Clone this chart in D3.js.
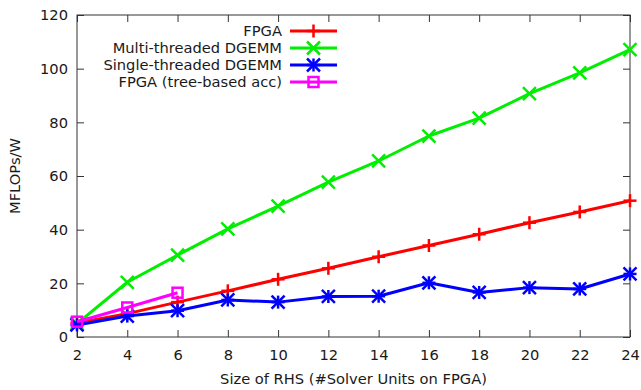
<!DOCTYPE html>
<html>
<head>
<meta charset="utf-8">
<script src="https://cdn.jsdelivr.net/npm/d3@7"></script>
<style>
  html, body { margin: 0; padding: 0; background: #fff; }
  svg text { font-family: "DejaVu Sans", sans-serif; font-size: 14.67px; fill: #1a1a1a; }
</style>
</head>
<body>
<svg id="chart" width="641" height="390"></svg>
<script>
// Number of right-hand sides (= solver units on the FPGA)
const rhsSizes = [2, 4, 6, 8, 10, 12, 14, 16, 18, 20, 22, 24];

// Energy efficiency in MFLOPs/W
const fpga = [5.2, 8.7, 13.0, 17.2, 21.5, 25.6, 29.9, 34.1, 38.3, 42.6, 46.6, 50.8];
const multiThreaded = [5.0, 20.4, 30.5, 40.3, 48.8, 57.7, 65.6, 74.9, 81.6, 90.7, 98.4, 107.1];
const singleThreaded = [4.5, 7.8, 9.8, 13.8, 13.0, 15.1, 15.2, 20.2, 16.6, 18.4, 17.9, 23.5];
const fpgaTreeSizes = [2, 4, 6];
const fpgaTree = [5.7, 11.0, 16.5];

const xTicks = [2, 4, 6, 8, 10, 12, 14, 16, 18, 20, 22, 24];
const yTicks = [0, 20, 40, 60, 80, 100, 120];

const series = [
  { name: "FPGA", xs: rhsSizes, ys: fpga, color: "#ff0000", marker: "plus" },
  { name: "Multi-threaded DGEMM", xs: rhsSizes, ys: multiThreaded, color: "#00ee00", marker: "cross" },
  { name: "Single-threaded DGEMM", xs: rhsSizes, ys: singleThreaded, color: "#0000ff", marker: "star" },
  { name: "FPGA (tree-based acc)", xs: fpgaTreeSizes, ys: fpgaTree, color: "#ff00ff", marker: "square" }
];

const svg = d3.select("#chart");
const plotLeft = 77, plotRight = 630, plotTop = 15, plotBottom = 337;

const x = d3.scaleLinear().domain([2, 24]).range([plotLeft, plotRight]);
const y = d3.scaleLinear().domain([0, 120]).range([plotBottom, plotTop]);

const axisColor = "#333";
const tickLen = 7;

// Axes with inward ticks, mirrored on the top and right
const gx = svg.append("g").attr("transform", `translate(0,${plotBottom})`)
  .call(d3.axisBottom(x).tickValues(xTicks).tickSizeInner(-tickLen).tickSizeOuter(0).tickPadding(13));
const gxTop = svg.append("g").attr("transform", `translate(0,${plotTop})`)
  .call(d3.axisTop(x).tickValues(xTicks).tickSizeInner(-tickLen).tickSizeOuter(0).tickFormat(""));
const gy = svg.append("g").attr("transform", `translate(${plotLeft},0)`)
  .call(d3.axisLeft(y).tickValues(yTicks).tickSizeInner(-tickLen).tickSizeOuter(0).tickPadding(9));
const gyRight = svg.append("g").attr("transform", `translate(${plotRight},0)`)
  .call(d3.axisRight(y).tickValues(yTicks).tickSizeInner(-tickLen).tickSizeOuter(0).tickFormat(""));

[gx, gxTop, gy, gyRight].forEach(g => {
  g.select(".domain").remove();
  g.selectAll(".tick line").attr("stroke", axisColor).attr("stroke-width", 1);
  g.selectAll(".tick text").attr("fill", "#1a1a1a");
});

// Plot frame
svg.append("rect")
  .attr("x", plotLeft).attr("y", plotTop)
  .attr("width", plotRight - plotLeft).attr("height", plotBottom - plotTop)
  .attr("fill", "none").attr("stroke", axisColor).attr("stroke-width", 1);

// Axis titles
svg.append("text")
  .attr("x", (plotLeft + plotRight) / 2).attr("y", 384)
  .attr("text-anchor", "middle")
  .text("Size of RHS (#Solver Units on FPGA)");
svg.append("text")
  .attr("transform", `translate(20,${(plotTop + plotBottom) / 2}) rotate(-90)`)
  .attr("text-anchor", "middle")
  .text("MFLOPs/W");

// Marker drawing
function drawMarker(g, kind, cx, cy, color) {
  const s = 6.5;
  const attrs = sel => sel.attr("stroke", color).attr("stroke-width", 2.5).attr("fill", "none");
  if (kind === "plus" || kind === "star") {
    attrs(g.append("line").attr("x1", cx - s).attr("x2", cx + s).attr("y1", cy).attr("y2", cy));
    attrs(g.append("line").attr("x1", cx).attr("x2", cx).attr("y1", cy - s).attr("y2", cy + s));
  }
  if (kind === "cross" || kind === "star") {
    const d = s;
    attrs(g.append("line").attr("x1", cx - d).attr("x2", cx + d).attr("y1", cy - d).attr("y2", cy + d));
    attrs(g.append("line").attr("x1", cx - d).attr("x2", cx + d).attr("y1", cy + d).attr("y2", cy - d));
  }
  if (kind === "square") {
    attrs(g.append("rect").attr("x", cx - 5).attr("y", cy - 5).attr("width", 10).attr("height", 10));
  }
}

const line = d3.line();

// Series lines and markers
series.forEach(s => {
  const pts = s.xs.map((v, i) => [x(v), y(s.ys[i])]);
  const g = svg.append("g");
  g.append("path")
    .attr("d", line(pts))
    .attr("fill", "none")
    .attr("stroke", s.color)
    .attr("stroke-width", 3)
    .attr("stroke-linejoin", "round");
  pts.forEach(p => drawMarker(g, s.marker, p[0], p[1], s.color));
});

// Legend
const legendTextX = 282, legendLineX1 = 290, legendLineX2 = 337;
series.forEach((s, i) => {
  const ly = 31 + i * 17;
  const g = svg.append("g");
  g.append("text")
    .attr("x", legendTextX).attr("y", ly)
    .attr("dy", "0.35em")
    .attr("text-anchor", "end")
    .text(s.name);
  g.append("line")
    .attr("x1", legendLineX1).attr("x2", legendLineX2)
    .attr("y1", ly).attr("y2", ly)
    .attr("stroke", s.color).attr("stroke-width", 3);
  drawMarker(g, s.marker, (legendLineX1 + legendLineX2) / 2, ly, s.color);
});
</script>
</body>
</html>
